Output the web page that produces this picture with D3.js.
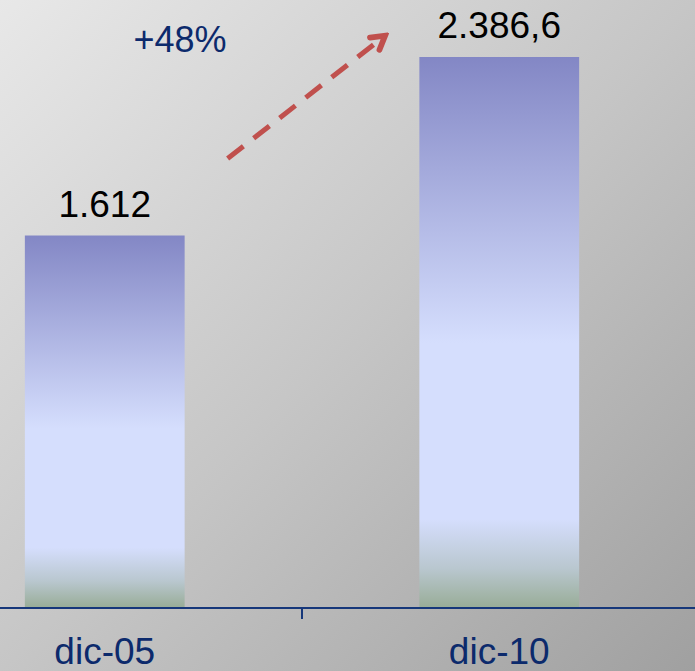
<!DOCTYPE html>
<html>
<head>
<meta charset="utf-8">
<script src="https://cdn.jsdelivr.net/npm/d3@7"></script>
<style>
  html, body { margin: 0; padding: 0; overflow: hidden; }
  svg { display: block; font-family: 'Liberation Sans', Arial, sans-serif; }
</style>
</head>
<body>
<div id="chart"></div>
<script>
// data
const categories = ['dic-05', 'dic-10']
const values = [1612, 2386.6]

const width = 695
const height = 671
const AXIS_Y = 607
const TOP_Y = 57
const FONT_SIZE = 37
const NAVY = '#0c2a6c'
const RED = '#c0504d'

const es = d3.formatLocale({decimal: ',', thousands: '.', grouping: [3], currency: ['', ' €']})
const fmt = es.format(',.1~f')

const xScale = d3.scaleBand()
  .domain(categories)
  .range([-93.5, 697.5])
  .paddingInner(0.595)
  .paddingOuter(0.3)

const yScale = d3.scaleLinear()
  .domain([0, d3.max(values)])
  .range([AXIS_Y, TOP_Y])

const svg = d3.select('#chart')
  .append('svg')
  .attr('width', width)
  .attr('height', height)

const defs = svg.append('defs')

const bg = defs.append('linearGradient').attr('id', 'bg')
  .attr('x1', 0).attr('y1', 0).attr('x2', 1).attr('y2', 1)
bg.append('stop').attr('offset', 0).attr('stop-color', '#e8e8e8')
bg.append('stop').attr('offset', 0.5).attr('stop-color', '#c6c6c6')
bg.append('stop').attr('offset', 1).attr('stop-color', '#a0a0a0')

const barGrad = defs.append('linearGradient').attr('id', 'barGrad')
  .attr('x1', 0).attr('y1', 0).attr('x2', 0).attr('y2', 1)
barGrad.append('stop').attr('offset', 0).attr('stop-color', '#8387c5')
barGrad.append('stop').attr('offset', 0.52).attr('stop-color', '#d5defd')
barGrad.append('stop').attr('offset', 0.84).attr('stop-color', '#d5defd')
barGrad.append('stop').attr('offset', 0.93).attr('stop-color', '#b9c7cf')
barGrad.append('stop').attr('offset', 1).attr('stop-color', '#99ad98')

defs.append('marker')
  .attr('id', 'head')
  .attr('viewBox', '0 0 10 10')
  .attr('refX', 7).attr('refY', 5)
  .attr('markerWidth', 4.4).attr('markerHeight', 4.4)
  .attr('markerUnits', 'strokeWidth')
  .attr('orient', 'auto')
  .append('path')
  .attr('d', 'M2,1.5 L8,5 L2,8.5')
  .attr('fill', 'none').attr('stroke', RED).attr('stroke-width', 2.6)
  .attr('stroke-linecap', 'round').attr('stroke-linejoin', 'miter')

svg.append('rect')
  .attr('width', width).attr('height', height)
  .attr('fill', 'url(#bg)')

// bars
svg.selectAll('rect.bar')
  .data(values)
  .enter()
  .append('rect')
  .classed('bar', true)
  .attr('x', (d, i) => xScale(categories[i]))
  .attr('y', d => yScale(d))
  .attr('width', xScale.bandwidth())
  .attr('height', d => AXIS_Y - yScale(d))
  .attr('fill', 'url(#barGrad)')

svg.selectAll('text.value')
  .data(values)
  .enter()
  .append('text')
  .classed('value', true)
  .attr('x', (d, i) => xScale(categories[i]) + xScale.bandwidth() / 2)
  .attr('y', d => yScale(d) - 19)
  .attr('text-anchor', 'middle')
  .attr('font-size', FONT_SIZE)
  .attr('fill', '#000')
  .text(d => fmt(d))

// axis (Excel style: ticks between categories)
svg.append('line')
  .attr('x1', 0).attr('x2', width)
  .attr('y1', AXIS_Y + 1).attr('y2', AXIS_Y + 1)
  .attr('stroke', '#16377a').attr('stroke-width', 2)

const step = xScale.step()
svg.selectAll('line.tick')
  .data(categories.slice(1))
  .enter()
  .append('line')
  .classed('tick', true)
  .attr('x1', d => xScale(d) - (step - xScale.bandwidth()) / 2)
  .attr('x2', d => xScale(d) - (step - xScale.bandwidth()) / 2)
  .attr('y1', AXIS_Y + 1).attr('y2', AXIS_Y + 12)
  .attr('stroke', '#16377a').attr('stroke-width', 2)

svg.selectAll('text.cat')
  .data(categories)
  .enter()
  .append('text')
  .classed('cat', true)
  .attr('x', d => xScale(d) + xScale.bandwidth() / 2)
  .attr('y', 664)
  .attr('text-anchor', 'middle')
  .attr('font-size', FONT_SIZE)
  .attr('fill', NAVY)
  .text(d => d)

// growth annotation
const growth = Math.round((values[1] / values[0] - 1) * 100)
const x0 = xScale(categories[0]) + xScale.bandwidth()
const x1 = xScale(categories[1])

svg.append('line')
  .attr('x1', x0 + 43).attr('y1', yScale(values[0]) - 77)
  .attr('x2', x1 - 36).attr('y2', yScale(values[1]) - 20)
  .attr('stroke', RED).attr('stroke-width', 5)
  .attr('stroke-dasharray', '20 13')
  .attr('marker-end', 'url(#head)')

svg.append('text')
  .attr('x', (x0 + x1) / 2 - 122)
  .attr('y', 52)
  .attr('text-anchor', 'middle')
  .attr('font-size', 36)
  .attr('fill', NAVY)
  .text(`+${growth}%`)
</script>
</body>
</html>
